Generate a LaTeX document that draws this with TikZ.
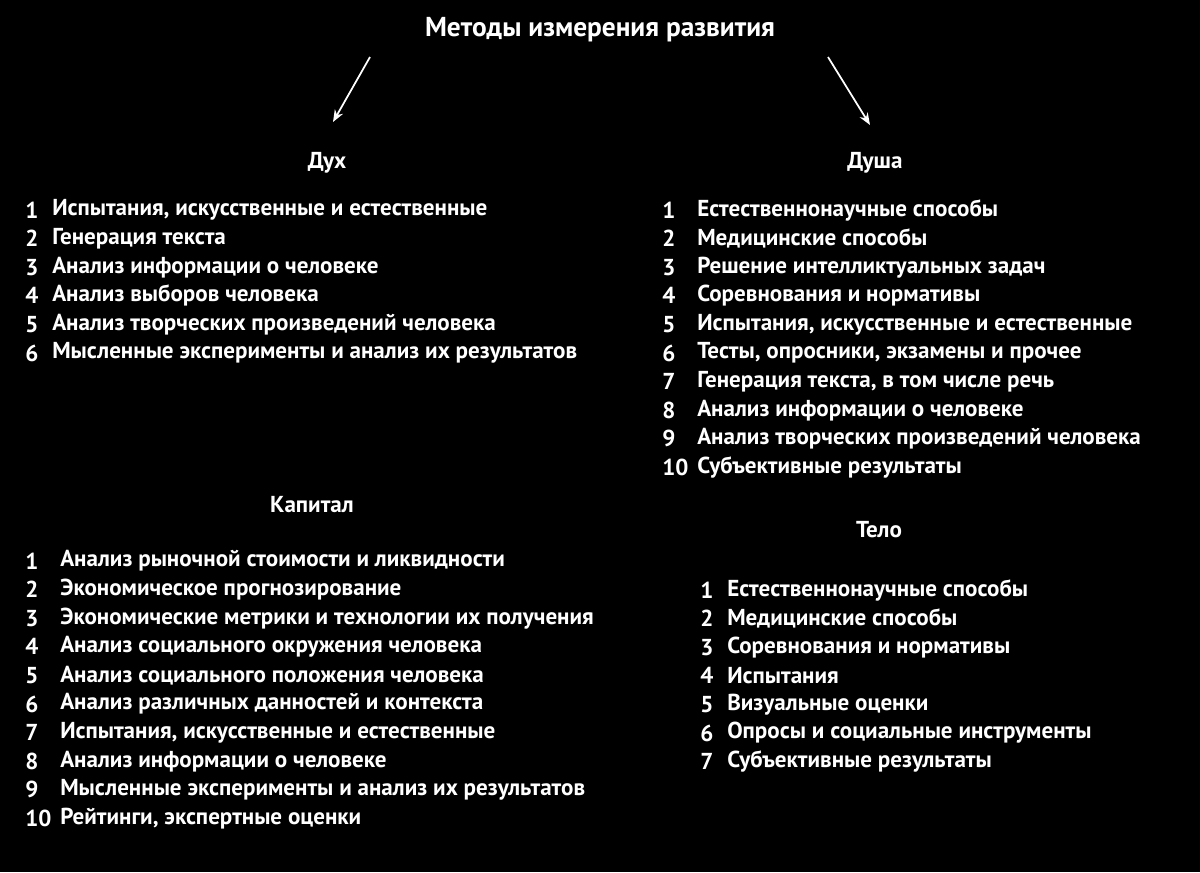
\documentclass[tikz,border=0pt]{standalone}
\usepackage{fontspec}
\setmainfont{PT Sans}
\usetikzlibrary{arrows.meta}
\begin{document}
\begin{tikzpicture}[x=0.75pt,y=-0.75pt,
  txt/.style={text=white,font=\bfseries\fontsize{17.3}{19}\selectfont,anchor=west,inner sep=0pt},
  hdr/.style={text=white,font=\bfseries\fontsize{17.3}{19}\selectfont,inner sep=0pt},
  arr/.style={white,line width=1.3pt,-{Stealth[length=9pt,width=7pt]}}]
\fill[black] (0,0) rectangle (1200,872);
\useasboundingbox (0,0) rectangle (1200,872);
\node[hdr,font=\bfseries\fontsize{20.5}{23}\selectfont] (title) at (600,30) {Методы измерения развития};
\coordinate (a1) at (370,57); \coordinate (a2) at (333,122);
\coordinate (b1) at (828,57); \coordinate (b2) at (870,125);
\draw[arr] (a1) -- (a2);
\draw[arr] (b1) -- (b2);
\node[hdr] (dux) at (327,163) {Дух};
\node[hdr] (dusha) at (875,163) {Душа};
\node[hdr] (kap) at (312,505) {Капитал};
\node[hdr] (telo) at (879,530) {Тело};
\foreach \t [count=\i] in {Испытания{,} искусственные и естественные,Генерация текста,Анализ информации о человеке,Анализ выборов человека,Анализ творческих произведений человека,Мысленные эксперименты и анализ их результатов}{
  \node[txt] (dn\i) at (25,{210+28.6*(\i-1)}) {\i};
  \node[txt] (dt\i) at (52,{210+28.6*(\i-1)}) {\t};}
\foreach \t [count=\i] in {Естественнонаучные способы,Медицинские способы,Решение интелликтуальных задач,Соревнования и нормативы,Испытания{,} искусственные и естественные,Тесты{,} опросники{,} экзамены и прочее,Генерация текста{,} в том числе речь,Анализ информации о человеке,Анализ творческих произведений человека,Субъективные результаты}{
  \node[txt] (sn\i) at (662,{210+28.6*(\i-1)}) {\i};
  \node[txt] (st\i) at (697,{210+28.6*(\i-1)}) {\t};}
\foreach \t [count=\i] in {Анализ рыночной стоимости и ликвидности,Экономическое прогнозирование,Экономические метрики и технологии их получения,Анализ социального окружения человека,Анализ социального положения человека,Анализ различных данностей и контекста,Испытания{,} искусственные и естественные,Анализ информации о человеке,Мысленные эксперименты и анализ их результатов,Рейтинги{,} экспертные оценки}{
  \node[txt] (kn\i) at (25,{561+28.6*(\i-1)}) {\i};
  \node[txt] (kt\i) at (60,{561+28.6*(\i-1)}) {\t};}
\foreach \t [count=\i] in {Естественнонаучные способы,Медицинские способы,Соревнования и нормативы,Испытания,Визуальные оценки,Опросы и социальные инструменты,Субъективные результаты}{
  \node[txt] (tn\i) at (700,{590+28.6*(\i-1)}) {\i};
  \node[txt] (tt\i) at (727,{590+28.6*(\i-1)}) {\t};}
\end{tikzpicture}
\end{document}
